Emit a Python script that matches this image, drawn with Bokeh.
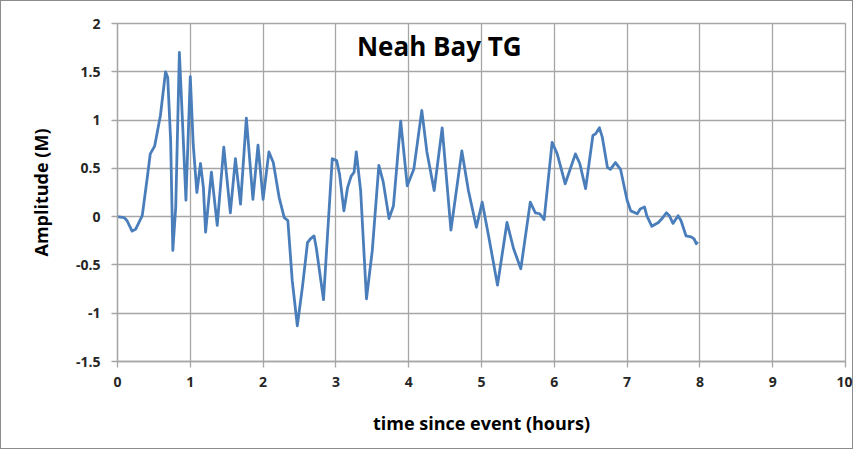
from bokeh.plotting import figure
from bokeh.models import Range1d, FixedTicker, Label
from bokeh.embed import file_html
from bokeh.resources import INLINE

# time since event (hours)
time_h = [0.00, 0.09, 0.13, 0.20, 0.25, 0.34, 0.41, 0.45, 0.51, 0.59,
          0.66, 0.69, 0.73, 0.76, 0.80, 0.85, 0.89, 0.94, 1.00, 1.04,
          1.09, 1.14, 1.18, 1.21, 1.29, 1.37, 1.46, 1.55, 1.62, 1.69,
          1.77, 1.86, 1.93, 2.00, 2.08, 2.14, 2.22, 2.29, 2.34, 2.40,
          2.47, 2.54, 2.61, 2.65, 2.70, 2.73, 2.83, 2.88, 2.95, 3.01,
          3.05, 3.11, 3.16, 3.21, 3.25, 3.28, 3.34, 3.42, 3.50, 3.59,
          3.65, 3.73, 3.79, 3.89, 3.98, 4.07, 4.18, 4.25, 4.35, 4.46,
          4.58, 4.73, 4.82, 4.93, 5.01, 5.10, 5.22, 5.35, 5.44, 5.54,
          5.67, 5.74, 5.80, 5.86, 5.97, 6.04, 6.15, 6.29, 6.35, 6.43,
          6.53, 6.57, 6.62, 6.66, 6.73, 6.77, 6.84, 6.91, 7.00, 7.05,
          7.14, 7.18, 7.24, 7.27, 7.34, 7.43, 7.48, 7.54, 7.58, 7.63,
          7.70, 7.74, 7.81, 7.88, 7.92, 7.95, 7.97]

# amplitude (m)
amplitude_m = [0.00, -0.01, -0.04, -0.15, -0.13, 0.01, 0.41, 0.65, 0.73, 1.05,
               1.50, 1.44, 0.79, -0.35, 0.10, 1.70, 1.03, 0.17, 1.45, 0.75,
               0.25, 0.55, 0.30, -0.16, 0.46, -0.09, 0.72, 0.04, 0.60, 0.13,
               1.02, 0.18, 0.74, 0.18, 0.67, 0.56, 0.20, -0.01, -0.04, -0.66,
               -1.13, -0.73, -0.27, -0.23, -0.20, -0.32, -0.86, -0.25, 0.60, 0.58,
               0.44, 0.06, 0.30, 0.42, 0.46, 0.67, 0.27, -0.85, -0.35, 0.53,
               0.36, -0.02, 0.11, 0.99, 0.32, 0.49, 1.10, 0.67, 0.27, 0.92,
               -0.14, 0.68, 0.27, -0.11, 0.15, -0.21, -0.71, -0.06, -0.33, -0.54,
               0.15, 0.04, 0.03, -0.03, 0.77, 0.65, 0.34, 0.65, 0.55, 0.29,
               0.84, 0.86, 0.92, 0.82, 0.51, 0.49, 0.56, 0.49, 0.17, 0.06,
               0.03, 0.08, 0.10, 0.01, -0.10, -0.06, -0.02, 0.04, 0.01, -0.07,
               0.01, -0.04, -0.20, -0.21, -0.23, -0.28, -0.26]

x_ticks = [0, 1, 2, 3, 4, 5, 6, 7, 8, 9, 10]
y_ticks = [-1.5, -1, -0.5, 0, 0.5, 1, 1.5, 2]
y_tick_labels = ["-1.5", "-1", "-0.5", "0", "0.5", "1", "1.5", "2"]

title_text = "Neah Bay TG"
x_label = "time since event (hours)"
y_label = "Amplitude (M)"

FONT = "Open Sans"
GRID = "#a6a6a6"
TEXT = "#262626"

p = figure(width=853, height=449, output_backend="svg", toolbar_location=None,
           x_range=Range1d(0, 10), y_range=Range1d(-1.5, 2),
           min_border_left=116, min_border_right=9, min_border_top=22,
           min_border_bottom=89)
p.styles = {"border": "1px solid #8c8c8c"}

p.line(time_h, amplitude_m, line_color="#4a7ebb", line_width=2.8,
       line_join="round")

p.xaxis.ticker = FixedTicker(ticks=x_ticks)
p.yaxis.ticker = FixedTicker(ticks=y_ticks)
p.yaxis.major_label_overrides = {t: s for t, s in zip(y_ticks, y_tick_labels)}
p.xaxis.major_label_overrides = {t: str(t) for t in x_ticks}

for ax in (p.xaxis, p.yaxis):
    ax.axis_line_color = GRID
    ax.axis_line_width = 1.3
    ax.major_tick_line_color = GRID
    ax.major_tick_line_width = 1.3
    ax.minor_tick_line_color = None
    ax.major_label_text_font = FONT
    ax.major_label_text_font_style = "bold"
    ax.major_label_text_font_size = "14px"
    ax.major_label_text_color = TEXT
    ax.axis_label_text_font = FONT
    ax.axis_label_text_font_style = "bold"
    ax.axis_label_text_font_size = "18px"
    ax.axis_label_text_color = "#000000"

p.xaxis.major_tick_out = 6
p.xaxis.major_tick_in = 0
p.yaxis.major_tick_out = 6
p.yaxis.major_tick_in = 0
p.xaxis.major_label_standoff = 9
p.yaxis.major_label_standoff = 11
p.xaxis.axis_label = x_label
p.yaxis.axis_label = y_label
p.xaxis.axis_label_standoff = 21
p.yaxis.axis_label_standoff = 20

p.xgrid.grid_line_color = GRID
p.ygrid.grid_line_color = GRID
p.xgrid.grid_line_width = 1.3
p.ygrid.grid_line_width = 1.3
p.outline_line_color = GRID
p.outline_line_width = 1.3

p.add_layout(Label(x=4.42, y=1.762, text=title_text, text_align="center",
                   text_baseline="alphabetic", text_font=FONT,
                   text_font_style="bold", text_font_size="26px",
                   text_color="#000000"))

open("out.html", "w").write(file_html(p, INLINE))
